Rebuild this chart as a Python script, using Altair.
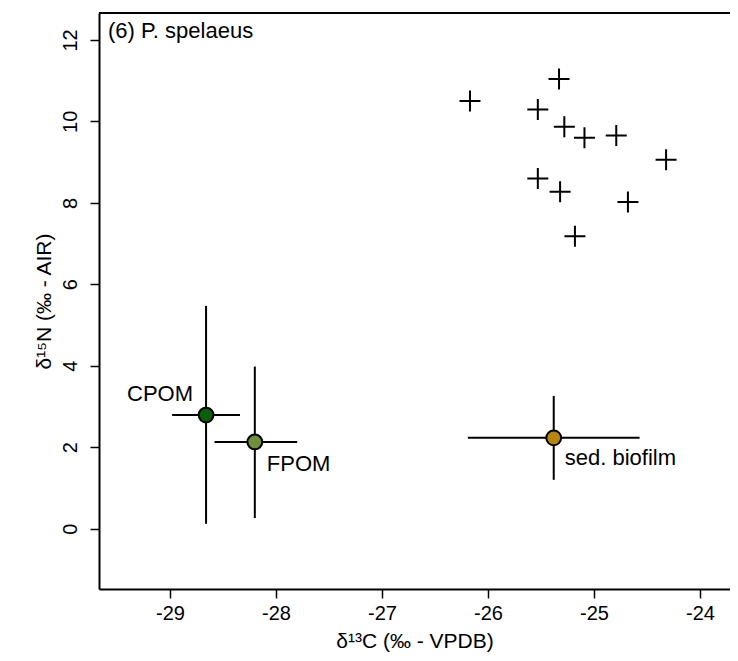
import altair as alt
import pandas as pd

# Consumer (P. spelaeus) isotope values
cons_d13c = [-26.17, -25.33, -25.53, -25.28, -25.09, -24.79, -24.32, -25.53, -25.32, -24.68, -25.18]
cons_d15n = [10.50, 11.04, 10.29, 9.87, 9.60, 9.65, 9.06, 8.60, 8.27, 8.02, 7.18]

# Food sources: mean and range
src_names = ["CPOM", "FPOM", "sed. biofilm"]
src_d13c = [-28.66, -28.20, -25.38]
src_d15n = [2.79, 2.13, 2.23]
src_d13c_lo = [-28.98, -28.58, -26.19]
src_d13c_hi = [-28.34, -27.80, -24.57]
src_d15n_lo = [0.12, 0.26, 1.20]
src_d15n_hi = [5.47, 3.98, 3.26]
src_colors = ["#0B5E0B", "#6E8F3C", "#B8860B"]

x_ticks = [-29, -28, -27, -26, -25, -24]
y_ticks = [0, 2, 4, 6, 8, 10, 12]
x_domain = [-29.67, -23.717]
y_domain = [-1.48, 12.66]

W, H = 631, 576
FONT = "Liberation Sans"

cons = pd.DataFrame({"x": cons_d13c, "y": cons_d15n})
src = pd.DataFrame({
    "name": src_names, "x": src_d13c, "y": src_d15n,
    "xlo": src_d13c_lo, "xhi": src_d13c_hi,
    "ylo": src_d15n_lo, "yhi": src_d15n_hi,
})

xs = alt.Scale(domain=x_domain, nice=False, zero=False)
ys = alt.Scale(domain=y_domain, nice=False, zero=False)

x_axis = alt.Axis(
    values=x_ticks, title="δ¹³C (‰ - VPDB)", grid=False,
    labelExpr="toString(datum.value)",
    domainColor="black", domainWidth=2, tickColor="black", tickWidth=1.5, tickSize=9,
    labelFont=FONT, labelFontSize=20, labelColor="black", labelPadding=5,
    titleFont=FONT, titleFontSize=21, titleFontWeight="normal", titleColor="black",
    titlePadding=7,
)
y_axis = alt.Axis(
    values=y_ticks, title="δ¹⁵N (‰ - AIR)", grid=False,
    labelExpr="toString(datum.value)",
    labelAngle=270, labelAlign="center", labelBaseline="bottom",
    domainColor="black", domainWidth=2, tickColor="black", tickWidth=1.5, tickSize=9,
    labelFont=FONT, labelFontSize=20, labelColor="black", labelPadding=10,
    titleFont=FONT, titleFontSize=21, titleFontWeight="normal", titleColor="black",
    titlePadding=6,
)

base_x = alt.X("x:Q", scale=xs, axis=x_axis)
base_y = alt.Y("y:Q", scale=ys, axis=y_axis)

plus_path = "M-1,0L1,0M0,-1L0,1"
consumers = alt.Chart(cons).mark_point(
    shape=plus_path, size=441, filled=False, stroke="black", strokeWidth=2, opacity=1
).encode(x=base_x, y=base_y)

hbars = alt.Chart(src).mark_rule(color="black", strokeWidth=2).encode(
    x=alt.X("xlo:Q", scale=xs, axis=x_axis), x2="xhi:Q", y=alt.Y("y:Q", scale=ys, axis=y_axis)
)
vbars = alt.Chart(src).mark_rule(color="black", strokeWidth=2).encode(
    x=alt.X("x:Q", scale=xs, axis=x_axis), y=alt.Y("ylo:Q", scale=ys, axis=y_axis), y2="yhi:Q"
)
points = alt.Chart(src).mark_point(
    shape="circle", filled=True, size=220, stroke="black", strokeWidth=2, opacity=1
).encode(
    x=base_x, y=base_y,
    fill=alt.Fill("name:N", scale=alt.Scale(domain=src_names, range=src_colors), legend=None),
)

def label(name, align, dx, dy):
    return alt.Chart(src).transform_filter(alt.datum.name == name).mark_text(
        align=align, baseline="alphabetic", dx=dx, dy=dy,
        font=FONT, fontSize=22, color="black"
    ).encode(x=base_x, y=base_y, text="name:N")

lab_cpom = label("CPOM", "right", -13, -14)
lab_fpom = label("FPOM", "left", 12, 29)
lab_sed = label("sed. biofilm", "left", 11, 27)

panel = alt.Chart(pd.DataFrame({"t": ["(6) P. spelaeus"]})).mark_text(
    align="left", baseline="alphabetic", font=FONT, fontSize=22, color="black"
).encode(x=alt.value(9), y=alt.value(25), text="t:N")

top_border = alt.Chart(pd.DataFrame({"t": [0]})).mark_rule(color="black", strokeWidth=2).encode(
    x=alt.value(0), x2=alt.value(W), y=alt.value(0)
)

chart = alt.layer(
    hbars, vbars, consumers, points, lab_cpom, lab_fpom, lab_sed, panel, top_border
).properties(
    width=W, height=H,
    autosize=alt.AutoSizeParams(type="none"),
    padding={"left": 91, "top": 5, "right": 0, "bottom": 64},
    background="white",
).configure_view(stroke=None)

chart.save("out.html", embed_options={"renderer": "svg", "actions": False})
